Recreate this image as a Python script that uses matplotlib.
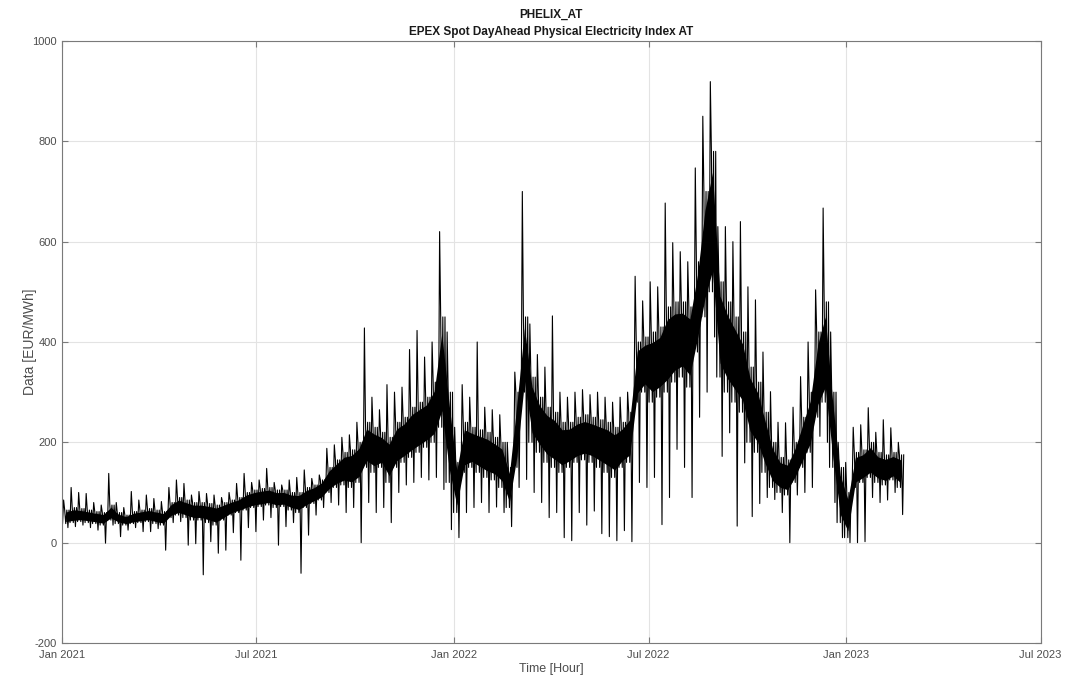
import numpy as np
import pandas as pd
import matplotlib
matplotlib.use('Agg')
import matplotlib.pyplot as plt
import matplotlib.dates as mdates

plt.rcParams['font.family'] = ['Liberation Sans', 'DejaVu Sans']
plt.rcParams['axes.unicode_minus'] = False

# -- weekly readings of the hourly price (EUR/MWh), starting 2021-01-01
week_start = pd.date_range('2021-01-01', periods=112, freq='7D')

# dense core of the hourly band (low / high)
core_lo = [38, 40, 42, 40, 38, 35, 45, 38, 35, 38, 40, 42, 38, 35, 50, 55, 50, 45, 45, 40,
           35, 45, 55, 60, 65, 70, 72, 75, 70, 72, 65, 60, 70, 78, 85, 100, 110, 115, 110, 120,
           150, 140, 150, 120, 150, 160, 170, 180, 190, 200, 230, 120,
           60, 140, 150, 140, 130, 125, 110, 70, 150, 300, 200, 180, 160, 150, 140, 150, 160, 165,
           160, 150, 140, 130, 150, 160, 280, 300, 280, 290, 300, 320, 330, 310, 380, 450, 500, 330,
           300, 280, 260, 200, 180, 140, 110, 100, 95, 120, 150, 180, 250, 280, 150, 40, 10,
           110, 120, 130, 120, 115, 125, 110]
core_hi = [65, 70, 68, 65, 62, 60, 75, 60, 55, 62, 65, 68, 65, 62, 80, 90, 85, 80, 80, 78,
           75, 80, 85, 90, 100, 105, 108, 110, 105, 105, 100, 100, 110, 115, 125, 150, 165, 180, 185, 200,
           240, 230, 220, 210, 240, 250, 270, 280, 290, 320, 450, 300,
           160, 240, 230, 225, 220, 210, 200, 150, 300, 450, 330, 290, 270, 260, 240, 240, 250, 255,
           250, 245, 240, 230, 240, 260, 400, 410, 420, 430, 470, 480, 480, 470, 560, 700, 780, 520,
           480, 450, 420, 350, 320, 260, 200, 170, 165, 200, 250, 300, 420, 480, 300, 150, 100,
           180, 185, 200, 180, 175, 180, 175]
# weekly extremes (spikes)
peak_hi = [85, 110, 100, 98, 80, 75, 138, 80, 70, 102, 85, 95, 88, 82, 110, 125, 118, 95, 102, 98,
           95, 90, 100, 118, 138, 120, 125, 148, 120, 115, 125, 130, 145, 128, 135, 188, 195, 210, 215, 240,
           428, 290, 265, 315, 300, 310, 385, 423, 370, 400, 620, 420,
           230, 315, 290, 400, 270, 265, 255, 200, 340, 700, 436, 375, 350, 452, 300, 290, 300, 305,
           295, 300, 290, 280, 290, 300, 531, 482, 520, 510, 677, 598, 580, 560, 747, 850, 919, 630,
           630, 600, 640, 510, 484, 380, 301, 240, 239, 270, 331, 400, 504, 667, 420, 200, 160,
           230, 235, 269, 220, 245, 229, 200]
peak_lo = [30, 32, 35, 30, 25, -1, 35, 12, 25, 30, 22, 22, 28, -15, 40, 42, -5, -2, -64, 2,
           -21, -15, 20, -35, 30, 22, 45, 50, -5, 32, 40, -61, 15, 55, 70, 80, 75, 60, 70, 0,
           80, 60, 70, 40, 100, 115, 120, 130, 125, 130, 106, 26,
           10, 60, 70, 80, 60, 71, 60, 32, 110, 126, 100, 80, 50, 60, 10, 4, 60, 35,
           63, 18, 12, 4, 24, 2, 120, 110, 130, 36, 90, 186, 150, 90, 250, 300, 410, 172,
           219, 33, 159, 52, 78, 90, 86, 60, 0, 95, 100, 110, 212, 200, 80, 10, 0,
           0, 2, 90, 80, 85, 100, 56]

lo = np.array(core_lo)
hi = np.array(core_hi)
mx = np.array(peak_hi)
mn = np.array(peak_lo)

# -- trace: swing between the read levels once a day within each week
offs = np.arange(7) + 0.5
t = (week_start.values[:, None] + pd.to_timedelta(offs, unit='D').values[None, :]).ravel()
y = np.column_stack([lo, mx, hi, lo, hi, mn, hi]).ravel()
tc = week_start + pd.Timedelta(days=3.5)

fig = plt.figure(figsize=(10.82, 6.81), dpi=100)
ax = fig.add_axes([0.0573, 0.0558, 0.9045, 0.884])

# dense hourly core, then the spikes on top
ax.fill_between(tc, lo + 0.15 * (hi - lo), hi - 0.15 * (hi - lo), color='black', linewidth=0)
ax.plot(t, y, color='black', linewidth=0.8)

ax.set_xlim(pd.Timestamp('2021-01-01'), pd.Timestamp('2023-07-01'))
ax.set_ylim(-200, 1000)
ax.set_yticks(np.arange(-200, 1001, 200))
ax.xaxis.set_major_locator(mdates.MonthLocator(bymonth=[1, 7]))
ax.xaxis.set_major_formatter(mdates.DateFormatter('%b %Y'))

ax.grid(True, color='#e3e3e3', linewidth=0.8)
ax.set_axisbelow(True)
for s in ax.spines.values():
    s.set_color('#7a7a7a')
    s.set_linewidth(0.8)
ax.tick_params(direction='in', length=4, width=0.8, colors='#7a7a7a',
               labelcolor='#4d4d4d', labelsize=8, top=True, right=True)
ax.tick_params(axis='x', pad=5)

ax.set_xlabel('Time [Hour]', fontsize=9, color='#4d4d4d', labelpad=2)
ax.set_ylabel('Data [EUR/MWh]', fontsize=10, color='#4d4d4d')
ax.yaxis.set_label_coords(-0.026, 0.5)
ax.set_title('PHELIX_AT\nEPEX Spot DayAhead Physical Electricity Index AT',
             fontsize=8.5, fontweight='bold', color='#1a1a1a', pad=4, linespacing=1.65)

fig.savefig('out.png', dpi=100)
